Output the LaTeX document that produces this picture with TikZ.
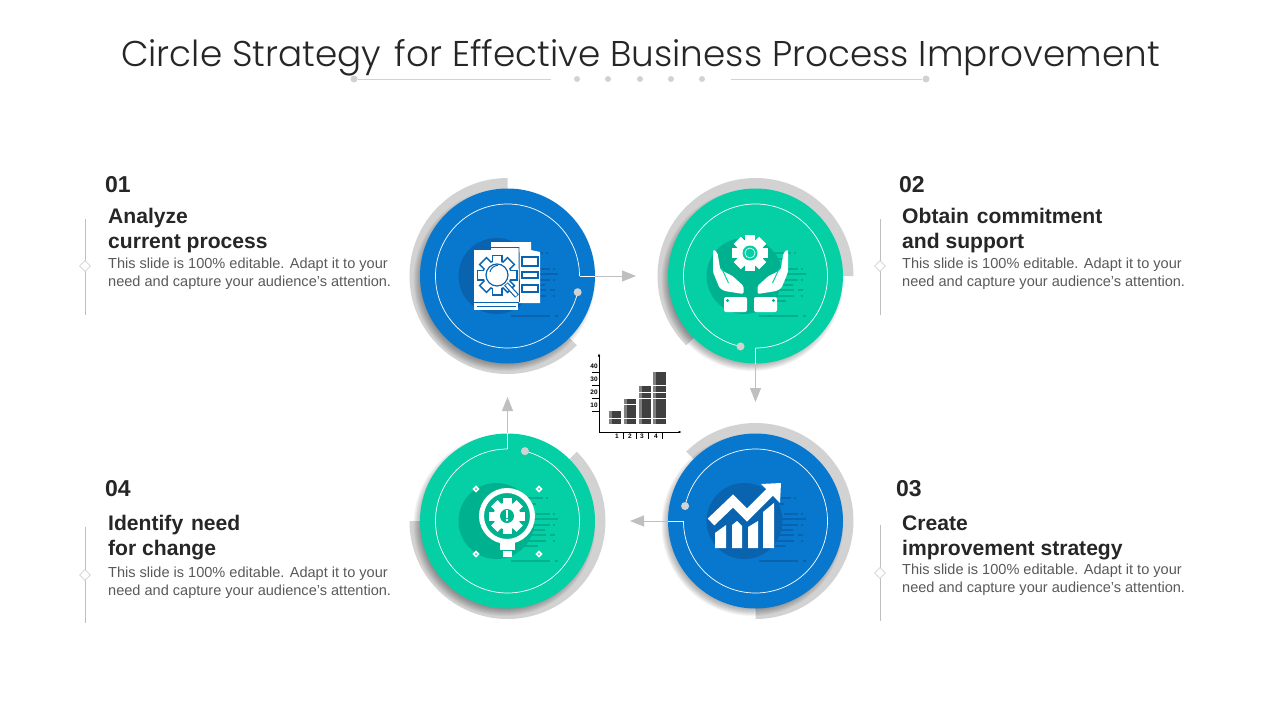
\documentclass[tikz,border=0pt]{standalone}
\usepackage{fontspec}
\setmainfont{Liberation Sans}
\newfontfamily\titlefont{Poppins Light}
\usetikzlibrary{arrows.meta,shapes.geometric}

\definecolor{discblue}{HTML}{0878CF}
\definecolor{darkblue}{HTML}{0A63AE}
\definecolor{discgreen}{HTML}{04CFA5}
\definecolor{darkgreen}{HTML}{00B190}
\definecolor{backgrey}{HTML}{D2D2D2}
\definecolor{linkgrey}{HTML}{BFBFBF}
\definecolor{inkdark}{HTML}{262626}
\definecolor{inkbody}{HTML}{595959}

\tikzset{
  x=1pt, y=-1pt,
  disc/.style={circle, minimum size=175pt, inner sep=0pt},
  ringline/.style={white, line width=0.7pt},
  ringdot/.style={circle, fill=backgrey, minimum size=8pt, inner sep=0pt},
  link/.style={linkgrey, line width=0.9pt, -{Triangle[length=14pt,width=11pt]}},
  stublink/.style={white, line width=0.8pt},
  numlabel/.style={anchor=base west, inner sep=0pt, text=inkdark, font=\fontsize{23}{23}\selectfont\bfseries},
  headlabel/.style={anchor=base west, inner sep=0pt, text=inkdark, align=left, font=\fontsize{21.1}{25}\selectfont\bfseries},
  bodylabel/.style={anchor=base west, inner sep=0pt, text=inkbody, align=left, font=\fontsize{14.55}{18}\selectfont},
  sideline/.style={linkgrey, line width=0.6pt},
  sidemark/.style={diamond, draw=backgrey, fill=white, line width=0.6pt, minimum size=11pt, inner sep=0pt},
  headdot/.style={circle, fill=backgrey, inner sep=0pt},
  ticklabel/.style={inner sep=0pt, text=black, font=\fontsize{6.5}{7}\selectfont\bfseries}
}

% disc with back arc, shadow, blob, speed lines, ring
\newcommand{\discgroup}[8]{
  \fill[backgrey] (#2) -- ([shift={(#5:98)}]#2) arc[start angle=#5, end angle=#6, radius=98] -- cycle;
  \foreach \i in {0,...,7}
    \fill[black, opacity=0.045] ([shift={(-3,4)}]#2) circle[radius={91-\i}];
  \node[disc, fill=#3] (#1) at (#2) {};
  \fill[#4] ([shift={(-11,0)}]#2) circle[radius=38];
  \foreach \xa/\xb/\yy in {12/35/-23,38/40/-23,12/28/-17,28/42/-7,45/47/-7,13/50/-2,22/42/4,45/47/4,
      5/37/9,-2/38/14,42/47/14,-5/38/20,45/47/20,-5/30/25,3/42/40,47/50/40}
    \draw[#4, line width=1.6pt] ([shift={(\xa,\yy)}]#2) -- ([shift={(\xb,\yy)}]#2);
  \draw[ringline] ([shift={(#7:72)}]#2) coordinate (#1start)
    arc[start angle=#7, end angle=#8, radius=72] coordinate (#1end);
  \node[ringdot] (#1dot) at (#1end) {};
}

% gear: body radius, tooth radius, tooth half width
\newcommand{\gearfill}[5]{
  \fill[#5] (#1) circle[radius=#2];
  \foreach \a in {0,45,90,135}
    \fill[#5, shift={(#1)}, rotate=\a] ({-#4},{-#3}) rectangle ({#4},{#3});
}

% text block of one step
\newcommand{\stepblock}[9]{
  \node[numlabel] (num#1) at (#2,#3) {#4};
  \node[headlabel] (head#1) at (#5,#6) {#7};
  \node[bodylabel] (body#1) at (#5,#8) {This slide is 100\% editable.  Adapt it to your};
  \node[bodylabel] (more#1) at (#5,#9) {need and capture your audience’s attention.};
}

\begin{document}
\begin{tikzpicture}

\useasboundingbox (0,0) rectangle (1280,720);

% title
\node[anchor=base, inner sep=0pt, text=inkdark] (title) at (640.5,66)
  {\titlefont\fontsize{35.8}{38}\selectfont Circle Strategy\hspace{4pt} for Effective Business Process Improvement};
\node[headdot, minimum size=7pt] (ruleL) at (354,79) {};
\node[headdot, minimum size=7pt] (ruleR) at (926,79) {};
\coordinate (ruleLend) at (551,79);
\coordinate (ruleRend) at (731,79);
\draw[backgrey, line width=0.7pt] (ruleL) -- (ruleLend);
\draw[backgrey, line width=0.7pt] (ruleRend) -- (ruleR);
\foreach \x in {577,608,640,671,702}
  \node[headdot, minimum size=6pt] (rule\x) at (\x,79) {};

% discs
\discgroup{discA}{507.5,276}{discblue}{darkblue}{-90}{-315}{0}{-347}
\discgroup{discB}{755.5,276}{discgreen}{darkgreen}{0}{-225}{-270}{-618}
\discgroup{discC}{755.5,521}{discblue}{darkblue}{90}{-135}{-180}{-528}
\discgroup{discD}{507.5,521}{discgreen}{darkgreen}{-180}{-405}{-90}{-436}

% connectors
\coordinate (tipA) at (636,276);
\coordinate (tipB) at (755.5,402);
\coordinate (tipC) at (630,521);
\coordinate (tipD) at (507.5,397);
\draw[link] (discA.east) -- (tipA);
\draw[link] (discB.south) -- (tipB);
\draw[link] (discC.west) -- (tipC);
\draw[link] (discD.north) -- (tipD);
\draw[stublink] (discAstart) -- (discA.east);
\draw[stublink] (discBstart) -- (discB.south);
\draw[stublink] (discCstart) -- (discC.west);
\draw[stublink] (discDstart) -- (discD.north);

% icon 1: document and gear
\fill[white] (491,242) -- (531,242) -- (531,250) -- (540,252) -- (540,303) -- (518,303) -- (491,250) -- cycle;
\fill[discblue] (533,243) -- (539,250) -- (533,250) -- cycle;
\fill[white] (474,250) rectangle (518,310);
\draw[darkblue, line width=0.9pt] (491,247.5) -- (519,247.5) -- (519.5,302);
\draw[darkblue, line width=1pt] (474,302.5) -- (519,302.5);
\draw[darkblue, line width=0.9pt] (477,306) -- (516,306);
\foreach \y/\yy in {257/266,272/278,285/292}
  \draw[darkblue, line width=1.2pt, fill=white] (522,\y) rectangle (538,\yy);
\gearfill{497,275}{15}{20.5}{5.5}{darkblue}
\gearfill{497,275}{13.5}{18.8}{4}{white}
\draw[darkblue, line width=1.2pt, fill=white] (497,275) circle[radius=11];
\draw[darkblue, line width=5pt] (506,284) -- (517,296);
\draw[white, line width=2.6pt] (506.5,284.5) -- (516.5,295.5);
\draw[darkblue, line width=1pt] (490,272) arc[start angle=-170, end angle=-90, radius=8];

% icon 2: gear in hands
\gearfill{750,253}{14}{18}{5}{white}
\fill[discgreen] (750,253) circle[radius=7.5];
\draw[white, line width=0.6pt] (750,253) circle[radius=5];
\foreach \m in {1,-1}
{
  \begin{scope}[shift={(750.5,0)}, xscale=\m]
    \fill[white, rounded corners=1.5pt] (-37.5,250) -- (-36,250) -- (-33,253) -- (-31,265) -- (-30,270)
      -- (-18,276) -- (-7,286) -- (-7,294) -- (-26,291) -- (-31,288) -- (-37.5,272) -- cycle;
    \draw[discgreen, line width=1pt] (-29,268) -- (-22,283);
    \fill[white, rounded corners=2pt] (-26.5,297) rectangle (-3.5,312);
    \fill[darkgreen] (-23,300.5) circle[radius=1.6];
  \end{scope}
}

% icon 3: rising chart
\draw[white, line width=9.5pt] (711,522) -- (733,501) -- (747,515) -- (772,490);
\fill[white] (761,484) -- (781,483) -- (780,503) -- cycle;
\fill[white] (715,533) -- (726,525) -- (726,548) -- (715,548) -- cycle;
\fill[white] (732,525) -- (737,521) -- (742,526) -- (742,548) -- (732,548) -- cycle;
\fill[white] (748,527) -- (758,521) -- (758,548) -- (748,548) -- cycle;
\fill[white] (763,512) -- (774,503) -- (774,548) -- (763,548) -- cycle;

% icon 4: gear in round lens
\draw[white, line width=5pt] (507,516) circle[radius=25.5];
\fill[white] (503,540) rectangle (511,545);
\fill[white] (500,543) rectangle (515,550);
\fill[white] (503,551) rectangle (512,557);
\gearfill{507,516}{13.5}{18}{4.5}{white}
\fill[darkgreen] (507,516) circle[radius=7];
\fill[white] (505.8,510) rectangle (508.2,517.5);
\fill[white] (507,520) circle[radius=1.4];
\foreach \x/\y in {476/489,539/489,476/554,539/554}
{
  \node[diamond, fill=white, minimum size=7.5pt, inner sep=0pt] (spark\x\y) at (\x,\y) {};
  \fill[discgreen] (\x,\y) circle[radius=1];
}

% chart in the middle
\coordinate (axisO) at (599,432);
\coordinate (axisY) at (599,353);
\coordinate (axisX) at (682,432);
\foreach \xa/\xb/\yt in {609/621/411,624/636/398,639/651/385,653/666/372}
{
  \fill[black!75] (\xa,\yt) rectangle (\xb,424);
  \fill[black!50] (\xa,\yt) rectangle ({\xa+3},424);
}
\foreach \y in {418,398,392,385}
  \draw[white, line width=0.8pt] (607,\y) -- (668,\y);
\draw[white, line width=0.8pt] (624,404) -- (636,404);
\draw[black, line width=0.7pt, -{Latex[length=3.5pt,width=2.5pt]}] (axisO) -- (axisY);
\draw[black, line width=0.7pt, -{Latex[length=3.5pt,width=2.5pt]}] (axisO) -- (axisX);
\foreach \y/\v in {372/40,385/30,398/20,411/10}
{
  \draw[black, line width=0.7pt] (592,\y) -- (599,\y);
  \node[ticklabel] (ytick\v) at (594,{\y-5.5}) {\v};
}
\foreach \x/\xx/\v in {617/623/1,630/636/2,642/648/3,656/662/4}
{
  \draw[black, line width=0.7pt] (\xx,433) -- (\xx,439);
  \node[ticklabel] (xtick\v) at (\x,436) {\v};
}

% side rules
\foreach \name/\x/\ya/\yb/\ym in {A/85/219/315/266,B/880/219/315/266,C/880/525/621/573,D/85/527/623/575}
{
  \coordinate (side\name top) at (\x,\ya);
  \coordinate (side\name bot) at (\x,\yb);
  \draw[sideline] (side\name top) -- (side\name bot);
  \node[sidemark] (mark\name) at (\x,\ym) {};
}

% texts
\stepblock{A}{105}{192}{01}{108}{248}{Analyze\\current process}{268}{286}
\stepblock{B}{899}{192}{02}{902}{248}{Obtain\hspace{2pt} commitment\\and support}{268}{286}
\stepblock{C}{896}{496}{03}{902}{555}{Create\\improvement strategy}{574}{592}
\stepblock{D}{105}{496}{04}{108}{555}{Identify\hspace{2pt} need\\for change}{577}{595}

\end{tikzpicture}
\end{document}
